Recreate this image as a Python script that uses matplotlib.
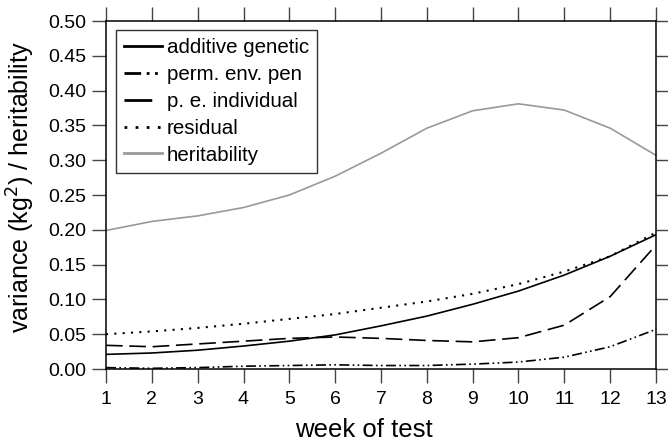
import matplotlib
matplotlib.use("Agg")
import matplotlib.pyplot as plt
import numpy as np

plt.rcParams['font.family'] = ['Liberation Sans', 'DejaVu Sans']

weeks = list(range(1, 14))
additive = [0.021, 0.023, 0.027, 0.033, 0.040, 0.049, 0.062, 0.076, 0.093, 0.112, 0.135, 0.162, 0.193]
perm_env = [0.002, 0.001, 0.002, 0.004, 0.005, 0.006, 0.005, 0.005, 0.007, 0.010, 0.017, 0.032, 0.057]
pe_indiv = [0.034, 0.032, 0.036, 0.040, 0.044, 0.046, 0.044, 0.041, 0.039, 0.045, 0.063, 0.104, 0.178]
residual = [0.050, 0.054, 0.059, 0.065, 0.072, 0.079, 0.088, 0.097, 0.108, 0.122, 0.140, 0.162, 0.196]
heritab = [0.199, 0.212, 0.220, 0.232, 0.250, 0.277, 0.310, 0.346, 0.371, 0.381, 0.372, 0.346, 0.307]
yticks = np.arange(0, 0.51, 0.05)

W, H = 668, 443
fig = plt.figure(figsize=(W / 100, H / 100), dpi=100)
# axes box in pixels: x 106..656, y 21..369
ax = fig.add_axes([106 / W, 1 - 369 / H, 550 / W, 348 / H])

ax.plot(weeks, additive, color='black', lw=1.2, label='additive genetic')
ax.plot(weeks, perm_env, color='black', lw=1.2, dashes=(6, 2, 1, 2, 1, 2), label='perm. env. pen')
ax.plot(weeks, pe_indiv, color='black', lw=1.2, dashes=(10, 4), label='p. e. individual')
ax.plot(weeks, residual, color='black', lw=1.5, dashes=(1, 3), label='residual')
ax.plot(weeks, heritab, color='#999999', lw=1.2, label='heritability')

ax.set_xlim(1, 13)
ax.set_ylim(0, 0.5)
ax.set_xticks(weeks)
ax.set_yticks(yticks)
ax.set_yticklabels(['%.2f' % v for v in yticks])
ax.tick_params(direction='out', length=10, width=1, color='#444444', labelsize=14,
               top=True, right=True, labeltop=False, labelright=False)
ax.tick_params(axis='x', pad=6)
ax.tick_params(axis='y', pad=4)
for s in ax.spines.values():
    s.set_linewidth(1.1)

fig.text(363.5 / W, 1 - 437 / H, 'week of test', fontsize=18.5, ha='center', va='baseline')
fig.text(21 / W, 1 - 187.5 / H, 'variance (kg$^2$) / heritability', fontsize=18,
         rotation=90, ha='center', va='center')

leg = ax.legend(loc='upper left', bbox_to_anchor=(0.0176, 0.974), fontsize=14.8,
                frameon=True, fancybox=False, edgecolor='black', handlelength=1.85,
                handletextpad=0.25, borderpad=0.4, labelspacing=0.38, borderaxespad=0)
leg.get_frame().set_linewidth(1.0)
for l in leg.get_lines():
    l.set_linewidth(2.0)

fig.savefig('out.png', dpi=100)
